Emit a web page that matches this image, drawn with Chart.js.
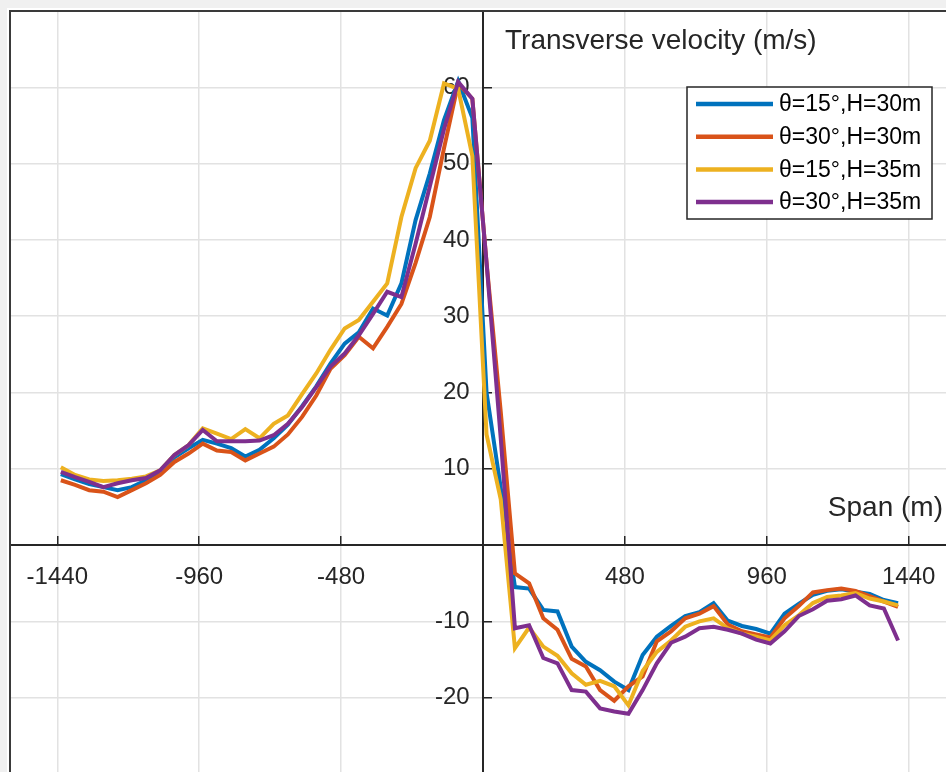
<!DOCTYPE html>
<html><head><meta charset="utf-8">
<script src="https://cdn.jsdelivr.net/npm/chart.js@4.4.1/dist/chart.umd.min.js"></script>
<style>
html,body{margin:0;padding:0;background:#f0f0f0;overflow:hidden;width:946px;height:772px;}
#wrap{position:absolute;left:0;top:0;width:956px;height:774px;}
</style></head><body>
<div id="wrap"><canvas id="c"></canvas></div>
<script>
// ---- data ----
const span = [-1428,-1380,-1332,-1284,-1236,-1188,-1140,-1092,-1044,-996,-948,-900,-852,-804,-756,-708,-660,-612,-564,-516,-468,-420,-372,-324,-276,-228,-180,-132,-84,-36,12,60,108,156,204,252,300,348,396,444,492,540,588,636,684,732,780,828,876,924,972,1020,1068,1116,1164,1212,1260,1308,1356,1404];
const v15_30 = [9.3,8.6,8.0,7.6,7.2,7.6,8.5,9.6,11.5,12.7,13.8,13.3,12.7,11.6,12.5,14.0,15.8,18.2,20.8,23.8,26.4,27.9,31.0,30.1,34.3,42.6,48.7,55.7,60.8,56.0,20.0,7.5,-5.5,-5.7,-8.5,-8.7,-13.3,-15.3,-16.4,-17.9,-19.0,-14.4,-12.0,-10.6,-9.3,-8.8,-7.6,-9.9,-10.6,-11.0,-11.6,-9.0,-7.7,-6.5,-6.0,-5.8,-6.1,-6.4,-7.2,-7.6];
const v30_30 = [8.5,7.9,7.2,7.0,6.3,7.2,8.1,9.2,10.9,12.0,13.3,12.4,12.2,11.1,12.0,12.9,14.5,16.8,19.6,23.1,24.9,27.3,25.8,28.6,31.6,37.0,43.0,52.0,60.5,58.5,37.0,17.5,-3.7,-5.0,-9.6,-11.1,-14.9,-15.9,-19.0,-20.4,-18.5,-17.2,-12.6,-11.3,-9.6,-9.0,-8.0,-10.4,-11.3,-11.7,-12.1,-9.6,-8.0,-6.2,-5.9,-5.7,-6.0,-6.7,-7.4,-8.1];
const v15_35 = [10.2,9.2,8.6,8.4,8.5,8.7,9.0,9.8,11.8,13.1,15.3,14.6,13.9,15.2,14.0,15.9,17.0,19.8,22.5,25.6,28.4,29.5,31.9,34.3,43.0,49.4,53.0,60.5,59.8,51.0,14.5,6.0,-13.5,-10.8,-13.3,-14.5,-16.8,-18.3,-17.8,-18.5,-21.0,-16.5,-14.0,-12.5,-10.7,-10.0,-9.6,-10.9,-11.6,-12.0,-12.5,-10.5,-9.2,-7.6,-6.8,-6.6,-6.3,-7.0,-7.4,-7.9];
const v30_35 = [9.6,8.9,8.3,7.6,8.1,8.5,8.8,9.8,11.8,13.1,15.1,13.6,13.6,13.6,13.7,14.4,15.9,18.1,20.7,23.4,25.1,27.5,30.3,33.2,32.5,39.5,47.0,54.5,60.7,58.5,37.0,14.0,-10.9,-10.5,-14.8,-15.5,-19.0,-19.2,-21.4,-21.8,-22.1,-19.0,-15.5,-12.8,-12.0,-10.9,-10.7,-11.1,-11.6,-12.4,-12.9,-11.3,-9.3,-8.4,-7.3,-7.1,-6.6,-7.9,-8.3,-12.5];
const seriesLabels = ['θ=15°,H=30m','θ=30°,H=30m','θ=15°,H=35m','θ=30°,H=35m'];
const xTickValues = [-1440,-960,-480,0,480,960,1440];
const yTickValues = [-20,-10,0,10,20,30,40,50,60];
const xTitle = 'Span (m)';
const yTitle = 'Transverse velocity (m/s)';

const FONT = '"Liberation Sans", Arial, Helvetica, sans-serif';
const colors = ['#0072BD','#D95319','#EDB120','#7E2F8E'];
const seriesValues = [v15_30, v30_30, v15_35, v30_35];

const datasets = seriesValues.map((vals, i) => ({
  label: seriesLabels[i],
  data: span.map((x, j) => ({x: x, y: vals[j]})),
  borderColor: colors[i],
  backgroundColor: colors[i],
  borderWidth: 4,
  pointRadius: 0,
  tension: 0,
  fill: false,
  order: 4 - i
}));

const noPad = s => { s.paddingLeft = 0; s.paddingRight = 0; s.paddingTop = 0; s.paddingBottom = 0; };

const decor = {
  id: 'decor',
  beforeDraw(chart) {
    const {ctx, chartArea: a} = chart;
    ctx.save();
    ctx.fillStyle = '#f0f0f0';
    ctx.fillRect(0, 0, chart.width, chart.height);
    ctx.fillStyle = '#ffffff';
    ctx.fillRect(a.left - 3, a.top - 3, chart.width, chart.height);
    ctx.restore();
  },
  afterDraw(chart) {
    const {ctx, chartArea: a, scales} = chart;
    const x0 = scales.x.getPixelForValue(0);
    const y0 = scales.y.getPixelForValue(0);
    ctx.save();
    // frame (top & left)
    ctx.strokeStyle = '#3a3a3a';
    ctx.lineWidth = 2;
    ctx.beginPath();
    ctx.moveTo(a.left, a.bottom);
    ctx.lineTo(a.left, a.top);
    ctx.lineTo(a.right, a.top);
    ctx.stroke();
    // axis titles
    ctx.fillStyle = '#262626';
    ctx.font = '28px ' + FONT;
    ctx.textBaseline = 'alphabetic';
    ctx.textAlign = 'left';
    ctx.fillText(yTitle, x0 + 22, a.top + 38);
    ctx.textAlign = 'right';
    ctx.fillText(xTitle, a.right - 13, y0 - 29);
    // legend
    const lx = 687, ly = 87, lw = 245, lh = 132;
    ctx.fillStyle = '#ffffff';
    ctx.fillRect(lx, ly, lw, lh);
    ctx.strokeStyle = '#262626';
    ctx.lineWidth = 1.5;
    ctx.strokeRect(lx, ly, lw, lh);
    ctx.font = '23px ' + FONT;
    ctx.textAlign = 'left';
    ctx.textBaseline = 'middle';
    chart.data.datasets.forEach((ds, i) => {
      const yy = ly + 17 + i * 32.7;
      ctx.strokeStyle = ds.borderColor;
      ctx.lineWidth = 4.5;
      ctx.beginPath();
      ctx.moveTo(lx + 9, yy);
      ctx.lineTo(lx + 86, yy);
      ctx.stroke();
      ctx.fillStyle = '#000000';
      ctx.fillText(ds.label, lx + 92, yy + 1);
    });
    ctx.restore();
  }
};

new Chart(document.getElementById('c'), {
  type: 'line',
  data: {datasets},
  plugins: [decor],
  options: {
    responsive: true,
    maintainAspectRatio: false,
    animation: false,
    layout: {padding: {left: 10, top: 11, right: 0, bottom: 0}},
    plugins: {legend: {display: false}, tooltip: {enabled: false}},
    scales: {
      x: {
        type: 'linear',
        min: -1600, max: 1600,
        position: {y: 0},
        afterBuildTicks: s => { s.ticks = xTickValues.map(v => ({value: v})); },
        afterFit: noPad,
        ticks: {
          callback: v => (v === 0 ? '' : String(v)),
          font: {size: 24, family: FONT},
          color: '#262626',
          padding: 28,
          maxRotation: 0,
          autoSkip: false
        },
        grid: {color: '#e2e2e2', lineWidth: 1.5, drawTicks: true, tickLength: -10, tickColor: '#262626', tickWidth: 1.5},
        border: {display: true, color: '#262626', width: 2}
      },
      y: {
        type: 'linear',
        min: -30, max: 70,
        position: {x: 0},
        afterBuildTicks: s => { s.ticks = yTickValues.map(v => ({value: v})); },
        afterFit: noPad,
        ticks: {
          callback: v => (v === 0 ? '' : String(v) + '  '),
          font: {size: 24, family: FONT},
          color: '#262626',
          padding: 0,
          autoSkip: false
        },
        grid: {color: '#e2e2e2', lineWidth: 1.5, drawTicks: true, tickLength: -10, tickColor: '#262626', tickWidth: 1.5},
        border: {display: true, color: '#262626', width: 2}
      }
    }
  }
});
</script>
</body></html>
